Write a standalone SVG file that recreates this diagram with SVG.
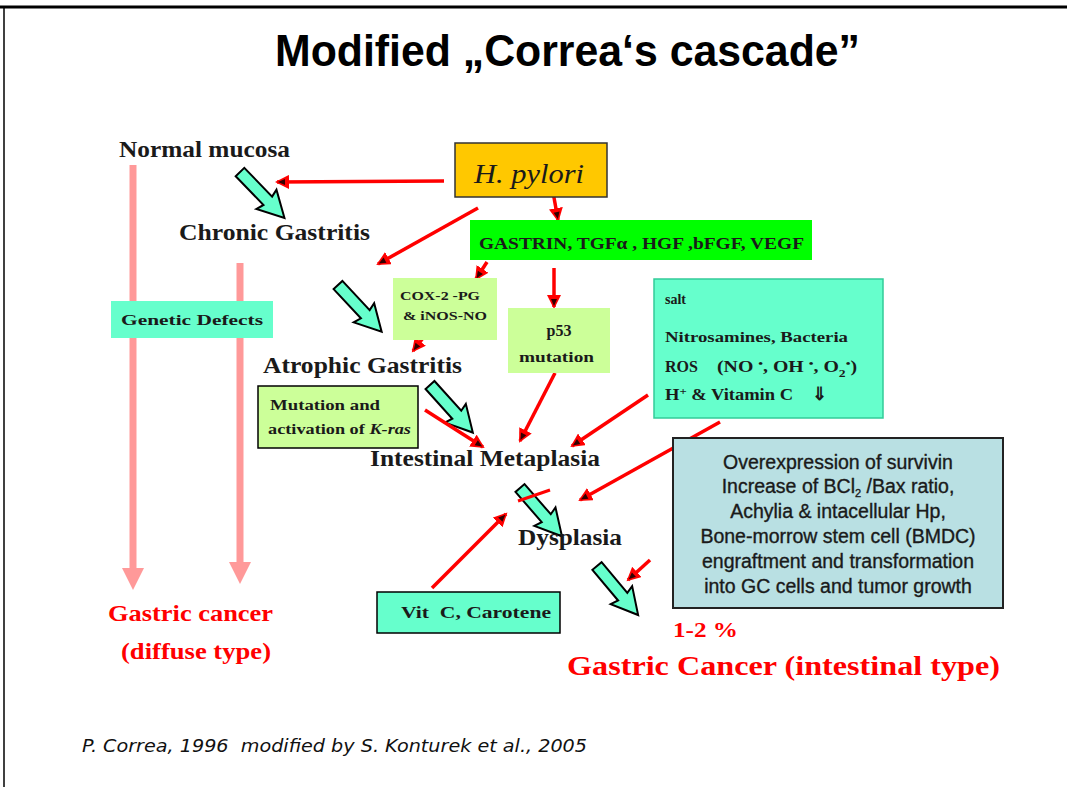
<svg xmlns="http://www.w3.org/2000/svg" width="1067" height="787" viewBox="0 0 1067 787">
  <defs>
    <style>
      .lbl { font-family: "Liberation Serif", "Times New Roman", serif; font-weight: bold; fill: #1a1a1a; }
      .stage { font-size: 23px; }
      .red { fill: #ff0000; }
      .box-txt { font-size: 15px; }
      .sans { font-family: "Liberation Sans", Arial, sans-serif; fill: #1a1a1a; stroke: #1a1a1a; stroke-width: 0.35px; }
      .flow { stroke: #ff0000; stroke-width: 3.5; fill: none; marker-end: url(#redHead); }
      .pink { stroke: #ff9999; stroke-width: 7; fill: none; }
      .block { fill: #66ffcc; stroke: #000; stroke-width: 2; stroke-linejoin: miter; }
      .pre { white-space: pre; }
    </style>
    <marker id="redHead" markerUnits="userSpaceOnUse" markerWidth="16" markerHeight="14" refX="12" refY="7" orient="auto" viewBox="0 0 16 14">
      <path d="M0,0 L14,7 L0,14 Z" fill="#ff0000"/>
      <path d="M4,4 L11,7 L4,10 Z" fill="#300"/>
    </marker>
    <!-- teal block arrow, pointing along +x, 64 long -->
    <path id="blockArrow" class="block" d="M0,-6 L40,-6 L38,-14 L64,0 L38,14 L40,6 L0,6 Z"/>
  </defs>

  <rect x="0" y="0" width="1067" height="787" fill="#ffffff"/>

  <!-- slide frame -->
  <line x1="0" y1="7" x2="1067" y2="7" stroke="#000" stroke-width="3"/>
  <line x1="4" y1="7" x2="4" y2="787" stroke="#000" stroke-width="1.5"/>

  <!-- title -->
  <text x="275" y="66" font-family="Liberation Sans, Arial, sans-serif" font-weight="bold" font-size="44" fill="#000" textLength="585" lengthAdjust="spacingAndGlyphs">Modified „Correa‘s cascade”</text>

  <!-- connectors -->
  <g id="connectors">
    <!-- diffuse-type pathway -->
    <line class="pink" x1="133" y1="165" x2="133" y2="570"/>
    <path d="M122,568 L144,568 L133,590 Z" fill="#ff9999"/>
    <line class="pink" x1="240" y1="263" x2="240" y2="564"/>
    <path d="M229,562 L251,562 L240,584 Z" fill="#ff9999"/>

    <!-- cascade block arrows -->
    <use href="#blockArrow" transform="translate(240,172) rotate(46)"/>
    <use href="#blockArrow" transform="translate(338,285) rotate(47)"/>
    <use href="#blockArrow" transform="translate(430,385) rotate(48)"/>
    <use href="#blockArrow" transform="translate(520,488) rotate(49)"/>
    <use href="#blockArrow" transform="translate(597,566) rotate(50)"/>

    <!-- red influence arrows -->
    <line class="flow" x1="444" y1="181" x2="277" y2="182"/>
    <line class="flow" x1="478" y1="208" x2="378" y2="264"/>
    <line class="flow" x1="553" y1="192" x2="558" y2="220"/>
    <line class="flow" x1="487" y1="262" x2="476" y2="279"/>
    <line class="flow" x1="554" y1="268" x2="554" y2="307"/>
    <line class="flow" x1="433" y1="325" x2="413" y2="351"/>
    <line class="flow" x1="425" y1="410" x2="483" y2="447"/>
    <line class="flow" x1="555" y1="373" x2="520" y2="441"/>
    <line class="flow" x1="648" y1="395" x2="572" y2="446"/>
    <line class="flow" x1="720" y1="422" x2="580" y2="500"/>
    <line class="flow" x1="432" y1="588" x2="506" y2="514"/>
    <line class="flow" x1="650" y1="560" x2="628" y2="580" stroke-width="5"/>
    <!-- inhibition bar -->
    <line x1="518" y1="501" x2="550" y2="490" stroke="#ff0000" stroke-width="3"/>
  </g>

  <!-- stage labels -->
  <g id="normal-mucosa"><text class="lbl stage" x="119" y="157" textLength="171" lengthAdjust="spacingAndGlyphs">Normal mucosa</text></g>
  <g id="chronic-gastritis"><text class="lbl stage" x="179" y="240" textLength="191" lengthAdjust="spacingAndGlyphs">Chronic Gastritis</text></g>
  <g id="atrophic-gastritis"><text class="lbl stage" x="263" y="373" textLength="199" lengthAdjust="spacingAndGlyphs">Atrophic Gastritis</text></g>
  <g id="intestinal-metaplasia"><text class="lbl stage" x="370" y="466" textLength="230" lengthAdjust="spacingAndGlyphs">Intestinal Metaplasia</text></g>
  <g id="dysplasia"><text class="lbl stage" x="518" y="545" textLength="104" lengthAdjust="spacingAndGlyphs">Dysplasia</text></g>

  <g id="gastric-cancer-diffuse">
    <text class="lbl stage red" x="108" y="621" textLength="165" lengthAdjust="spacingAndGlyphs">Gastric cancer</text>
    <text class="lbl stage red" x="121" y="659" textLength="150" lengthAdjust="spacingAndGlyphs">(diffuse type)</text>
  </g>
  <g id="rate"><text class="lbl red" font-size="21" x="673" y="637" textLength="65" lengthAdjust="spacingAndGlyphs">1-2 %</text></g>
  <g id="gastric-cancer-intestinal"><text class="lbl red" font-size="28" x="567" y="675" textLength="433" lengthAdjust="spacingAndGlyphs">Gastric Cancer (intestinal type)</text></g>

  <!-- factor boxes -->
  <g id="h-pylori">
    <rect x="455" y="143" width="152" height="54" fill="#ffc800" stroke="#333" stroke-width="1.5"/>
    <text class="lbl" font-size="28" x="474" y="183" style="font-style:italic; font-weight:normal" textLength="110" lengthAdjust="spacingAndGlyphs">H. pylori</text>
  </g>

  <g id="growth-factors">
    <rect x="470" y="220" width="342" height="40" fill="#00ff00"/>
    <text class="lbl" font-size="16" x="479" y="249" textLength="325" lengthAdjust="spacingAndGlyphs">GASTRIN, TGFα , HGF ,bFGF, VEGF</text>
  </g>

  <g id="cox2">
    <rect x="393" y="278" width="104" height="62" fill="#ccff99"/>
    <text class="lbl" font-size="13" x="400" y="300" textLength="80" lengthAdjust="spacingAndGlyphs">COX-2 -PG</text>
    <text class="lbl" font-size="13" x="403" y="320" textLength="84" lengthAdjust="spacingAndGlyphs">&amp; iNOS-NO</text>
  </g>

  <g id="p53">
    <rect x="508" y="308" width="102" height="65" fill="#ccff99"/>
    <text class="lbl" font-size="16" x="559" y="336" text-anchor="middle">p53</text>
    <text class="lbl box-txt" x="519" y="362" textLength="75" lengthAdjust="spacingAndGlyphs">mutation</text>
  </g>

  <g id="k-ras">
    <rect x="258" y="386" width="160" height="62" fill="#ccff99" stroke="#000" stroke-width="1.5"/>
    <text class="lbl box-txt" x="270" y="410" textLength="110" lengthAdjust="spacingAndGlyphs">Mutation and</text>
    <text class="lbl box-txt" x="268" y="434" textLength="143" lengthAdjust="spacingAndGlyphs">activation of <tspan font-style="italic">K-ras</tspan></text>
  </g>

  <g id="genetic-defects">
    <rect x="111" y="301" width="162" height="37" fill="#66ffcc"/>
    <text class="lbl box-txt" x="121" y="325" textLength="142" lengthAdjust="spacingAndGlyphs">Genetic Defects</text>
  </g>

  <g id="environment">
    <rect x="654" y="279" width="229" height="139" fill="#66ffcc" stroke="#33cc99" stroke-width="1.5"/>
    <text class="lbl" font-size="14" x="665" y="304">salt</text>
    <text class="lbl box-txt" x="665" y="342" textLength="183" lengthAdjust="spacingAndGlyphs">Nitrosamines, Bacteria</text>
    <text class="lbl" font-size="16" x="665" y="372">ROS</text>
    <text class="lbl" font-size="16" x="717" y="372" textLength="140" lengthAdjust="spacingAndGlyphs">(NO <tspan dy="-5" font-size="11">•</tspan><tspan dy="5">, OH </tspan><tspan dy="-5" font-size="11">•</tspan><tspan dy="5">, O</tspan><tspan dy="5" font-size="11">2</tspan><tspan dy="-10" font-size="11">•</tspan><tspan dy="5">)</tspan></text>
    <text class="lbl" font-size="16" x="665" y="400" textLength="128" lengthAdjust="spacingAndGlyphs">H<tspan dy="-5" font-size="11">+</tspan><tspan dy="5"> &amp; Vitamin C</tspan></text>
    <text class="lbl" font-size="18" x="812" y="400">⇓</text>
  </g>

  <g id="molecular-events">
    <rect x="673" y="438" width="330" height="170" fill="#b9e0e3" stroke="#222" stroke-width="2"/>
    <text class="sans" font-size="19.5" text-anchor="middle" x="838" y="469">Overexpression of survivin</text>
    <text class="sans" font-size="19.5" text-anchor="middle" x="838" y="493">Increase of BCl<tspan dy="4" font-size="11">2</tspan><tspan dy="-4"> /Bax ratio,</tspan></text>
    <text class="sans" font-size="19.5" text-anchor="middle" x="838" y="518">Achylia &amp; intacellular Hp,</text>
    <text class="sans" font-size="19.5" text-anchor="middle" x="838" y="543">Bone-morrow stem cell (BMDC)</text>
    <text class="sans" font-size="19.5" text-anchor="middle" x="838" y="568">engraftment and transformation</text>
    <text class="sans" font-size="19.5" text-anchor="middle" x="838" y="593">into GC cells and tumor growth</text>
  </g>

  <g id="vit-c">
    <rect x="377" y="592" width="183" height="41" fill="#66ffcc" stroke="#000" stroke-width="1.5"/>
    <text class="lbl pre" font-size="17" x="401" y="618" textLength="150" lengthAdjust="spacingAndGlyphs">Vit  C, Carotene</text>
  </g>

  <!-- citation -->
  <text class="pre" x="82" y="752" font-family="DejaVu Sans, Verdana, sans-serif" font-style="italic" font-size="18" fill="#111" textLength="505" lengthAdjust="spacingAndGlyphs">P. Correa, 1996  modified by S. Konturek et al., 2005</text>
</svg>
